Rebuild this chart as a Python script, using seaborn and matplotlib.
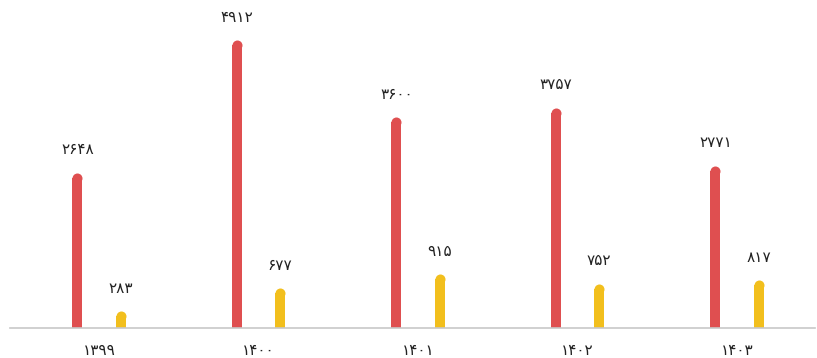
import pandas as pd
import matplotlib.pyplot as plt
import seaborn as sns

# Data
years = ["۱۳۹۹", "۱۴۰۰", "۱۴۰۱", "۱۴۰۲", "۱۴۰۳"]
series_a = [2648, 4912, 3600, 3757, 2771]
series_b = [283, 677, 915, 752, 817]
series_names = ["a", "b"]

fa_digits = str.maketrans("0123456789", "۰۱۲۳۴۵۶۷۸۹")

df = pd.DataFrame({
    "year": years * 2,
    "value": series_a + series_b,
    "series": [series_names[0]] * 5 + [series_names[1]] * 5,
})

sns.set_style("white")
plt.rcParams["font.family"] = ["DejaVu Sans"]

fig = plt.figure(figsize=(8.17, 3.58), dpi=100)
ax = fig.add_axes([10 / 817, 30 / 358, 805 / 817, 328 / 358])

colors = ["#DF4F50", "#F2BF1D"]
sns.barplot(data=df, x="year", y="value", hue="series", palette=colors,
            saturation=1, width=0.54, linewidth=0, legend=False, ax=ax)

# thin bars with rounded tops
bar_w = 10 / 159.5
ymax = 5600
r_units = 5 / 328 * ymax
for patch in ax.patches:
    h = patch.get_height()
    if h <= 0:
        continue
    cx = patch.get_x() + patch.get_width() / 2
    col = patch.get_facecolor()
    patch.set_width(bar_w)
    patch.set_x(cx - bar_w / 2)
    patch.set_height(h - r_units)
    patch.set_linewidth(0)
    ax.plot(cx, h - r_units, "o", ms=7.2, mec="none", color=col, zorder=3)
    ax.text(cx, h + 23 / 328 * ymax, str(int(h)).translate(fa_digits),
            ha="center", va="center", fontsize=11, color="#222222")

ax.set_xlim((10 - 99) / 159.5, (815 - 99) / 159.5)
ax.set_ylim(0, ymax)
ax.set_yticks([])
ax.set_xlabel("")
ax.set_ylabel("")
ax.tick_params(axis="x", length=0, pad=11, labelsize=11, colors="#222222")
for s in ["top", "left", "right"]:
    ax.spines[s].set_visible(False)
ax.spines["bottom"].set_color("#c8c8c8")
ax.spines["bottom"].set_linewidth(1.2)

fig.savefig("out.png", dpi=100)
